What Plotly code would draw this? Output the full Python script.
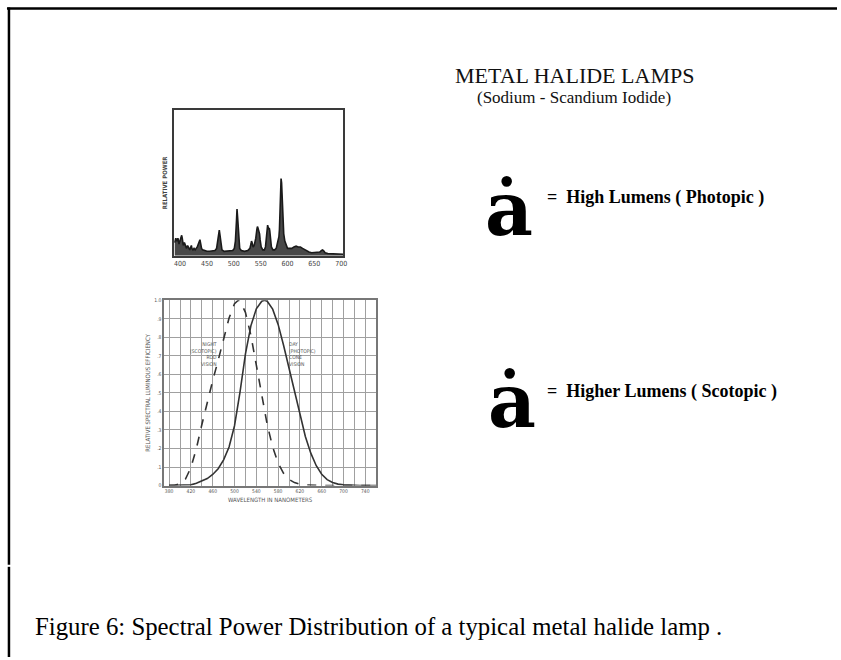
import plotly.graph_objects as go

W, H = 841, 660

# ---- Spectrum of sodium-scandium metal halide lamp (relative power) ----
spectrum_nm = [390, 392, 394, 396, 398, 400, 402, 403, 404, 406, 408, 410, 412, 414, 416, 418,
               420, 421, 422, 424, 426, 428, 430, 432, 434, 436, 437, 438, 440, 442, 445, 450,
               455, 460, 465, 468, 470, 472, 473, 474, 476, 478, 482, 488, 494, 498, 501, 503,
               505, 506, 507, 509, 511, 514, 520, 526, 530, 532, 533, 534, 536, 538, 541, 543,
               544, 545, 547, 548, 549, 551, 554, 557, 559, 561, 562, 563, 565, 566, 567, 568,
               570, 573, 576, 579, 581, 583, 584, 585, 586, 587, 588, 589, 590, 591, 593, 595,
               597, 600, 604, 608, 612, 616, 620, 624, 628, 632, 636, 640, 645, 650, 655, 660,
               663, 665, 667, 670, 675, 680, 685, 690, 695, 700, 704]
spectrum_power = [0.09, 0.12, 0.10, 0.12, 0.08, 0.10, 0.13, 0.14, 0.12, 0.07, 0.09, 0.06, 0.05, 0.07, 0.05, 0.04,
                  0.06, 0.07, 0.05, 0.04, 0.05, 0.04, 0.05, 0.06, 0.08, 0.10, 0.11, 0.09, 0.05, 0.04, 0.035, 0.03,
                  0.03, 0.03, 0.035, 0.05, 0.09, 0.15, 0.175, 0.15, 0.08, 0.04, 0.03, 0.03, 0.03, 0.035, 0.05, 0.10,
                  0.24, 0.32, 0.27, 0.12, 0.05, 0.035, 0.03, 0.035, 0.05, 0.08, 0.10, 0.09, 0.06, 0.07, 0.12, 0.18,
                  0.20, 0.19, 0.16, 0.15, 0.11, 0.06, 0.04, 0.04, 0.06, 0.14, 0.20, 0.21, 0.18, 0.19, 0.17, 0.12,
                  0.06, 0.04, 0.04, 0.05, 0.08, 0.12, 0.13, 0.18, 0.30, 0.45, 0.53, 0.50, 0.40, 0.25, 0.15, 0.10,
                  0.08, 0.05, 0.05, 0.05, 0.06, 0.065, 0.06, 0.06, 0.05, 0.04, 0.03, 0.025, 0.02, 0.02, 0.02, 0.025,
                  0.035, 0.04, 0.035, 0.02, 0.015, 0.015, 0.015, 0.012, 0.012, 0.01, 0.01]
spectrum_ticks = [400, 450, 500, 550, 600, 650, 700]

# ---- Relative spectral luminous efficiency curves ----
eff_nm = [380, 390, 400, 410, 420, 430, 440, 450, 460, 470, 480, 490, 500, 507, 510, 520, 530,
          540, 550, 555, 560, 570, 580, 590, 600, 610, 620, 630, 640, 650, 660, 670, 680,
          690, 700, 710, 720, 730, 740, 750, 760]
scotopic = [0.001, 0.002, 0.009, 0.035, 0.097, 0.200, 0.328, 0.455, 0.567, 0.676, 0.793, 0.904, 0.982, 1.0, 0.997,
            0.935, 0.811, 0.650, 0.481, 0.40, 0.329, 0.208, 0.121, 0.066, 0.033, 0.016, 0.007, 0.003, 0.0015,
            0.0007, 0.0003, 0.0001, 0.0, 0.0, 0.0, 0.0, 0.0, 0.0, 0.0, 0.0, 0.0]
photopic = [0.0, 0.0001, 0.0004, 0.0012, 0.004, 0.012, 0.023, 0.038, 0.060, 0.091, 0.139, 0.208, 0.323, 0.44, 0.503,
            0.710, 0.862, 0.954, 0.995, 1.0, 0.995, 0.952, 0.870, 0.757, 0.631, 0.503, 0.381, 0.265, 0.175,
            0.107, 0.061, 0.032, 0.017, 0.008, 0.004, 0.002, 0.001, 0.0005, 0.0003, 0.0001, 0.0]
eff_xticks = [380, 420, 460, 500, 540, 580, 620, 660, 700, 740]
eff_yticks = [0, 0.1, 0.2, 0.3, 0.4, 0.5, 0.6, 0.7, 0.8, 0.9, 1.0]
eff_yticktext = ["0", ".1", ".2", ".3", ".4", ".5", ".6", ".7", ".8", ".9", "1.0"]

def px(x):
    return x / W

def py(y):
    return 1 - y / H

fig = go.Figure()

fig.add_trace(go.Scatter(x=spectrum_nm, y=spectrum_power, mode="lines",
                         line=dict(color="#1a1a1a", width=1.6), fill="tozeroy",
                         fillcolor="rgba(40,40,40,0.85)", xaxis="x", yaxis="y",
                         showlegend=False, hoverinfo="skip"))

fig.add_trace(go.Scatter(x=eff_nm, y=scotopic, mode="lines",
                         line=dict(color="#333333", width=1.6, dash="dash"),
                         xaxis="x2", yaxis="y2", showlegend=False, hoverinfo="skip"))
fig.add_trace(go.Scatter(x=eff_nm, y=photopic, mode="lines",
                         line=dict(color="#333333", width=1.6),
                         xaxis="x2", yaxis="y2", showlegend=False, hoverinfo="skip"))

serif = "Liberation Serif, Times New Roman, serif"
glyph = "DejaVu Serif, serif"
small = "DejaVu Sans Condensed, Arial, sans-serif"

fig.update_layout(
    width=W, height=H, margin=dict(l=0, r=0, t=0, b=0),
    paper_bgcolor="white", plot_bgcolor="white",
    xaxis=dict(domain=[px(175), px(345)], range=[389, 704], anchor="y",
               tickvals=spectrum_ticks, ticks="", showgrid=False, zeroline=False,
               tickfont=dict(size=7, color="#444444", family=small),
               showline=True, mirror=True, linecolor="#3a3a3a", linewidth=2),
    yaxis=dict(domain=[py(255), py(108)], range=[0, 1], anchor="x",
               showticklabels=False, ticks="", showgrid=False, zeroline=False,
               showline=True, mirror=True, linecolor="#3a3a3a", linewidth=2,
               title=dict(text="<b>RELATIVE POWER</b>", standoff=4,
                          font=dict(size=6, color="#444444", family=small))),
    xaxis2=dict(domain=[px(165), px(378)], range=[371, 760], anchor="y2",
                tickvals=eff_xticks, ticks="", zeroline=False,
                showgrid=True, gridcolor="#a0a0a0", gridwidth=1,
                minor=dict(dtick=20, tick0=380, showgrid=True, gridcolor="#a0a0a0", gridwidth=1),
                tickfont=dict(size=5, color="#555555", family=small),
                showline=True, mirror=True, linecolor="#777777", linewidth=1.5,
                title=dict(text="WAVELENGTH IN NANOMETERS", standoff=4,
                           font=dict(size=6, color="#555555", family=small))),
    yaxis2=dict(domain=[py(487), py(300)], range=[0, 1], anchor="x2",
                tickvals=eff_yticks, ticktext=eff_yticktext, ticks="", zeroline=False,
                showgrid=True, gridcolor="#a0a0a0", gridwidth=1,
                tickfont=dict(size=5, color="#555555", family=small),
                showline=True, mirror=True, linecolor="#777777", linewidth=1.5,
                title=dict(text="RELATIVE SPECTRAL LUMINOUS EFFICIENCY", standoff=3,
                           font=dict(size=6, color="#555555", family=small))),
)

ann = []
ann.append(dict(text="METAL HALIDE LAMPS", x=px(577), y=py(73), xref="paper", yref="paper",
                showarrow=False, xanchor="center", yanchor="middle",
                font=dict(family=serif, size=22, color="#111111")))
ann.append(dict(text="(Sodium - Scandium Iodide)", x=px(577), y=py(95), xref="paper", yref="paper",
                showarrow=False, xanchor="center", yanchor="middle",
                font=dict(family=serif, size=17, color="#111111")))
ann.append(dict(text="<b>ȧ</b>", x=px(511), y=py(208), xref="paper", yref="paper",
                showarrow=False, xanchor="center", yanchor="middle",
                font=dict(family=glyph, size=74, color="#000000")))
ann.append(dict(text="<b>ȧ</b>", x=px(514), y=py(402), xref="paper", yref="paper",
                showarrow=False, xanchor="center", yanchor="middle",
                font=dict(family=glyph, size=74, color="#000000")))
ann.append(dict(text="<b>=  High Lumens ( Photopic )</b>", x=px(548), y=py(196), xref="paper", yref="paper",
                showarrow=False, xanchor="left", yanchor="middle",
                font=dict(family=serif, size=18, color="#000000")))
ann.append(dict(text="<b>=  Higher Lumens ( Scotopic )</b>", x=px(548), y=py(392), xref="paper", yref="paper",
                showarrow=False, xanchor="left", yanchor="middle",
                font=dict(family=serif, size=18, color="#000000")))
ann.append(dict(text="Figure 6: Spectral Power Distribution of a typical metal halide lamp .", x=px(33), y=py(629),
                xref="paper", yref="paper", showarrow=False, xanchor="left", yanchor="middle",
                font=dict(family=serif, size=24.8, color="#000000")))
ann.append(dict(text="NIGHT<br>(SCOTOPIC)<br>ROD<br>VISION", x=472, y=0.79, xref="x2", yref="y2",
                showarrow=False, xanchor="right", yanchor="top", align="right",
                font=dict(family=small, size=5, color="#555555")))
ann.append(dict(text="DAY<br>(PHOTOPIC)<br>CONE<br>VISION", x=596, y=0.79, xref="x2", yref="y2",
                showarrow=False, xanchor="left", yanchor="top", align="left",
                font=dict(family=small, size=5, color="#555555")))
fig.update_layout(annotations=ann)

shapes = [
    dict(type="line", xref="paper", yref="paper", x0=px(7), x1=px(841), y0=py(5.5), y1=py(5.5),
         line=dict(color="black", width=2.5)),
    dict(type="line", xref="paper", yref="paper", x0=px(9), x1=px(9), y0=py(4.5), y1=py(567),
         line=dict(color="black", width=2.5)),
    dict(type="line", xref="paper", yref="paper", x0=px(9), x1=px(9), y0=py(569), y1=py(660),
         line=dict(color="black", width=2.5)),
]
fig.update_layout(shapes=shapes)

fig.write_html("out.html",
               config={"displayModeBar": False},
               post_script="document.body.style.margin='0';document.body.style.padding='0';"
                           "document.body.style.overflow='hidden';")
